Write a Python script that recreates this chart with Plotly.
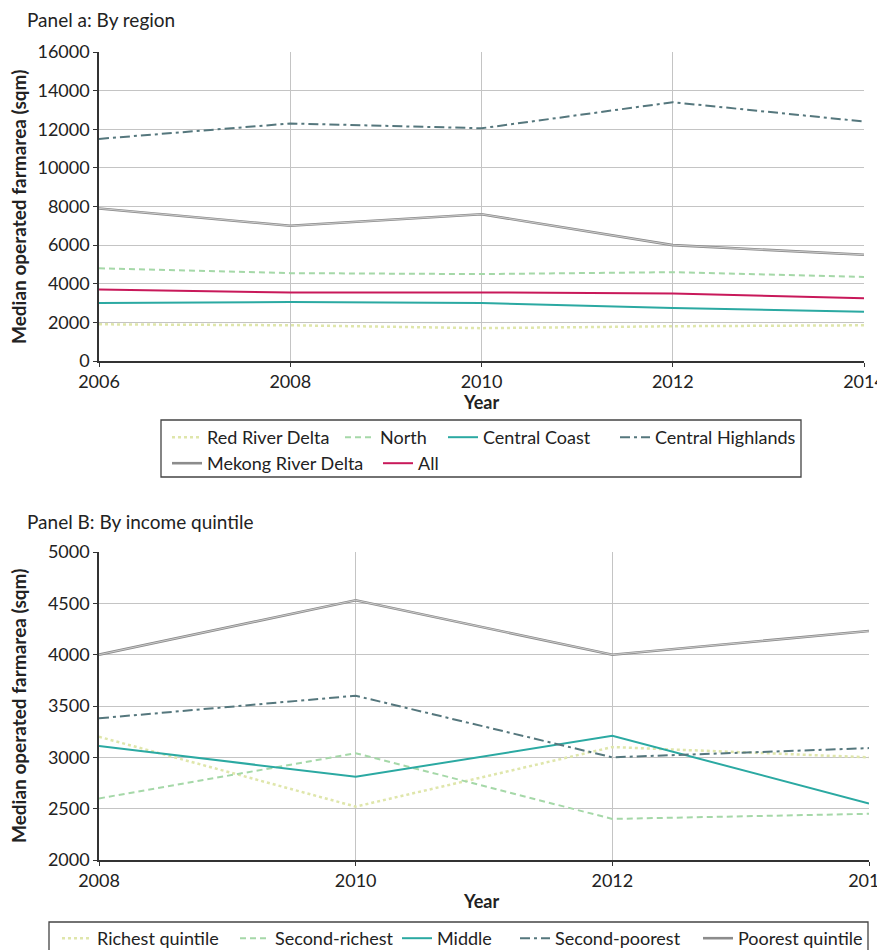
import plotly.graph_objects as go

# ---------------- data ----------------
years_a = [2006, 2008, 2010, 2012, 2014]
red_river = [1900, 1850, 1700, 1800, 1850]
north = [4800, 4550, 4500, 4600, 4350]
central_coast = [3000, 3050, 3000, 2750, 2550]
central_highlands = [11500, 12300, 12050, 13400, 12400]
mekong = [7900, 7000, 7600, 6000, 5500]
all_regions = [3700, 3550, 3550, 3500, 3250]

years_b = [2008, 2010, 2012, 2014]
richest = [3200, 2520, 3100, 3000]
second_richest = [2600, 3040, 2400, 2450]
middle = [3110, 2810, 3210, 2550]
second_poorest = [3380, 3600, 3000, 3090]
poorest = [4000, 4530, 4000, 4230]

ticks_a = [2006, 2008, 2010, 2012, 2014]
ticks_b = [2008, 2010, 2012, 2014]

FONT = "Lato"
OFF = 8                 # page body margin of the browser
W, H = 885 - OFF, 950 - OFF
TXT = "#222222"

C_RED = "#dfe6ab"
C_NORTH = "#a5d8a8"
C_COAST = "#2ba9a2"
C_HIGH = "#55777d"
C_MEK = "#8c8c8c"
C_MEK_IN = "#dcdcdc"
C_ALL = "#c8195a"
DOT, DASH, DASHDOT = "dot", "6px,4px", "10px,4px,3px,4px"


def sx(p):
    """screen pixel -> paper x"""
    return (p - OFF) / W


def sy(p):
    """screen pixel -> paper y"""
    return 1 - (p - OFF) / H


fig = go.Figure()
legends = {}
_count = [0]


def add(x, y, name, color, dash, width, xa, ya, lx=None, ly=None, inner=None):
    _count[0] += 1
    key = "legend" if _count[0] == 1 else f"legend{_count[0]}"
    legends[key] = dict(orientation="h", x=sx(lx - 40), y=sy(ly - 18),
                        xanchor="left", yanchor="top", borderwidth=0,
                        bgcolor="rgba(0,0,0,0)",
                        font=dict(family=FONT, size=18, color=TXT),
                        tracegroupgap=0, itemwidth=30)
    fig.add_trace(go.Scatter(x=x, y=y, name=name, mode="lines",
                             line=dict(color=color, dash=dash, width=width),
                             xaxis=xa, yaxis=ya, legend=key))
    if inner:
        fig.add_trace(go.Scatter(x=x, y=y, name=name, mode="lines",
                                 line=dict(color=inner, width=0.8),
                                 xaxis=xa, yaxis=ya, showlegend=False, hoverinfo="skip"))


# Panel a  (lx = screen x where legend text starts, ly = screen y of row centre)
add(years_a, red_river, "Red River Delta", C_RED, DOT, 2.5, "x", "y", 207, 437)
add(years_a, north, "North", C_NORTH, DASH, 2, "x", "y", 380, 437)
add(years_a, central_coast, "Central Coast", C_COAST, "solid", 2, "x", "y", 483, 437)
add(years_a, central_highlands, "Central Highlands", C_HIGH, DASHDOT, 2, "x", "y", 655, 437)
add(years_a, mekong, "Mekong River Delta", C_MEK, "solid", 2.6, "x", "y", 207, 463, inner=C_MEK_IN)
add(years_a, all_regions, "All", C_ALL, "solid", 2, "x", "y", 418, 463)

# Panel B
add(years_b, richest, "Richest quintile", C_RED, DOT, 2.5, "x2", "y2", 97, 938)
add(years_b, second_richest, "Second-richest", C_NORTH, DASH, 2, "x2", "y2", 275, 938)
add(years_b, middle, "Middle", C_COAST, "solid", 2, "x2", "y2", 437, 938)
add(years_b, second_poorest, "Second-poorest", C_HIGH, DASHDOT, 2, "x2", "y2", 555, 938)
add(years_b, poorest, "Poorest quintile", C_MEK, "solid", 2.6, "x2", "y2", 738, 938, inner=C_MEK_IN)

axis_common = dict(showgrid=True, gridcolor="#c4c4c4", gridwidth=1.3,
                   showline=True, linecolor="#333333", linewidth=1.5,
                   ticks="outside", ticklen=4, tickcolor="#333333",
                   tickfont=dict(family=FONT, size=18, color=TXT),
                   zeroline=False, tickformat="d", ticklabeloverflow="allow")

fig.update_layout(
    width=W, height=H,
    margin=dict(l=0, r=0, t=0, b=0, autoexpand=False),
    paper_bgcolor="white", plot_bgcolor="white",
    font=dict(family=FONT, size=18, color=TXT),
    xaxis=dict(domain=[sx(99), sx(864)], range=[2006, 2014],
               tickvals=ticks_a, anchor="y", **axis_common),
    yaxis=dict(domain=[sy(361), sy(52)], range=[0, 16000], dtick=2000,
               anchor="x", **axis_common),
    xaxis2=dict(domain=[sx(99), sx(869)], range=[2008, 2014],
                tickvals=ticks_b, anchor="y2", **axis_common),
    yaxis2=dict(domain=[sy(860), sy(552)], range=[2000, 5000], dtick=500,
                anchor="x2", **axis_common),
    **legends,
)

# legend frames
fig.add_shape(type="rect", xref="paper", yref="paper",
              x0=sx(161), x1=sx(801), y0=sy(477), y1=sy(420),
              line=dict(color="#444444", width=1.3), fillcolor="rgba(0,0,0,0)", layer="above")
fig.add_shape(type="rect", xref="paper", yref="paper",
              x0=sx(49), x1=sx(868), y0=sy(965), y1=sy(922),
              line=dict(color="#444444", width=1.3), fillcolor="rgba(0,0,0,0)", layer="above")

ann_font = dict(family=FONT, size=19, color=TXT)
bold_font = dict(family=FONT, size=19, color=TXT, weight="bold")
year_font = dict(family=FONT, size=18, color=TXT, weight="bold")

annotations = [
    dict(text="Panel a: By region", x=sx(25), y=sy(20), xanchor="left", yanchor="middle",
         font=ann_font),
    dict(text="Panel B: By income quintile", x=sx(25), y=sy(521), xanchor="left",
         yanchor="middle", font=ann_font),
    dict(text="Year", x=sx(481), y=sy(402), xanchor="center", yanchor="middle",
         font=year_font),
    dict(text="Year", x=sx(481), y=sy(901), xanchor="center", yanchor="middle",
         font=year_font),
    dict(text="Median operated farmarea (sqm)", x=sx(18), y=sy(207), textangle=-90,
         xanchor="center", yanchor="middle", font=bold_font),
    dict(text="Median operated farmarea (sqm)", x=sx(18), y=sy(706), textangle=-90,
         xanchor="center", yanchor="middle", font=bold_font),
]
for a in annotations:
    a.update(xref="paper", yref="paper", showarrow=False)
fig.update_layout(annotations=annotations)

fig.write_html("out.html")
